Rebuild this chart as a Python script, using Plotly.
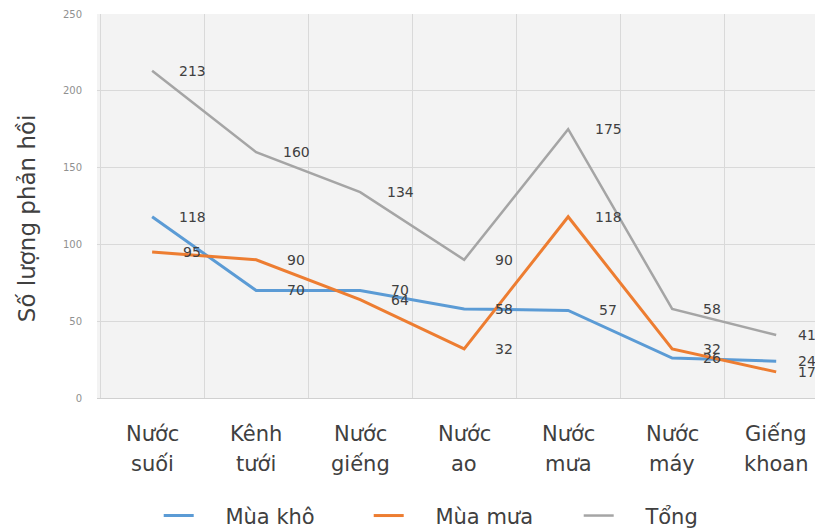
import plotly.graph_objects as go

# Dữ liệu
categories = ["Nước suối", "Kênh tưới", "Nước giếng", "Nước ao",
              "Nước mưa", "Nước máy", "Giếng khoan"]
mua_kho = [118, 70, 70, 58, 57, 26, 24]
mua_mua = [95, 90, 64, 32, 118, 32, 17]
tong = [213, 160, 134, 90, 175, 58, 41]
y_ticks = [0, 50, 100, 150, 200, 250]

series = [
    ("Mùa khô", mua_kho, "#5b9bd5", 3),
    ("Mùa mưa", mua_mua, "#ed7d31", 3),
    ("Tổng", tong, "#a5a5a5", 2.5),
]

fig = go.Figure()
annotations = []
last = len(categories) - 1
for name, vals, color, width in series:
    fig.add_trace(go.Scatter(
        x=categories, y=vals, name="\u00a0" * 4 + name, mode="lines",
        line=dict(color=color, width=width),
    ))
    # nhãn dữ liệu bên phải điểm (điểm cuối sát mép nên dịch ít hơn)
    for i, (c, v) in enumerate(zip(categories, vals)):
        annotations.append(dict(
            x=c, y=v, text=str(v), showarrow=False,
            xshift=31 if i == last else 40,
            font=dict(size=14, color="#404040", family="DejaVu Sans"),
        ))

# nhãn trục x hai dòng
for c in categories:
    top, bottom = c.split(" ", 1)
    for txt, dy in ((top, -36), (bottom, -66)):
        annotations.append(dict(
            x=c, y=0, xref="x", yref="paper", text=txt, showarrow=False,
            yshift=dy, yanchor="middle",
            font=dict(size=21, color="#404040", family="DejaVu Sans"),
        ))

# tiêu đề trục y
annotations.append(dict(
    x=-0.096, y=0.469, xref="paper", yref="paper", text="Số lượng phản hồi",
    textangle=-90, showarrow=False, xanchor="center", yanchor="middle",
    font=dict(size=23, color="#404040", family="DejaVu Sans"),
))

fig.update_layout(
    width=815, height=523,
    margin=dict(l=89, r=0, t=6, b=133, autoexpand=False),
    paper_bgcolor="white",
    plot_bgcolor="#f3f3f3",
    font=dict(family="DejaVu Sans", color="#404040"),
    annotations=annotations,
    showlegend=True,
    legend=dict(orientation="h", x=0.085, xanchor="left", y=-0.307,
                yanchor="middle", font=dict(size=21, color="#404040"),
                entrywidthmode="pixels", entrywidth=165),
)
fig.update_xaxes(
    type="category", range=[-0.53, 6.45], tickson="boundaries",
    showgrid=True, gridcolor="#d9d9d9", gridwidth=1, ticks="",
    showline=True, linecolor="#d0d0d0", automargin=False,
    showticklabels=False,
)
fig.update_yaxes(
    range=[0, 250], tickvals=y_ticks, showgrid=True, gridcolor="#d9d9d9",
    zeroline=False, tickfont=dict(size=10, color="#909090"),
    automargin=False, ticklabelstandoff=14,
)

fig.write_html("out.html")
